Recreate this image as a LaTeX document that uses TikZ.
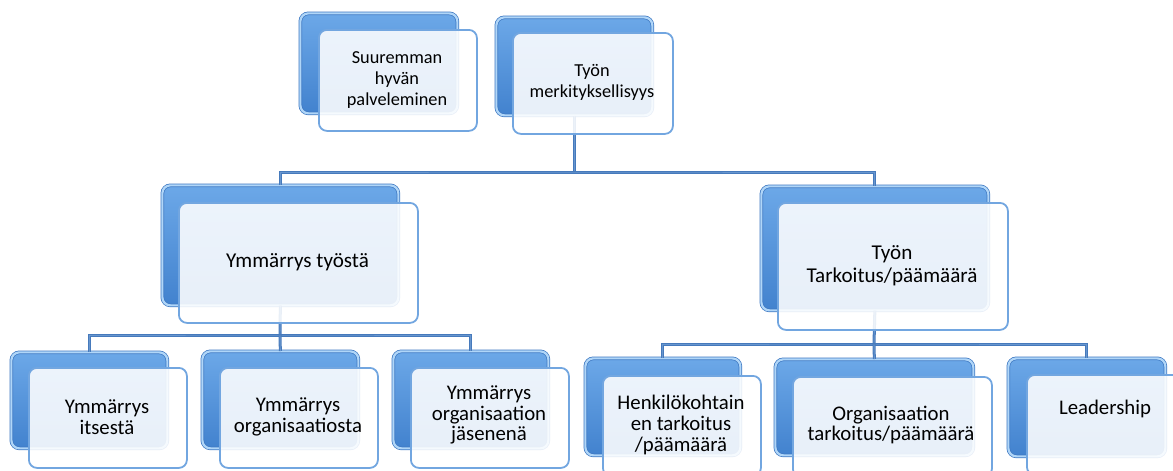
\documentclass[tikz,border=0pt]{standalone}
\usepackage{fontspec}
\setmainfont{Carlito}
\definecolor{bbord}{RGB}{62,120,194}
\definecolor{bhigh}{RGB}{176,214,248}
\definecolor{btop}{RGB}{108,168,232}
\definecolor{bbot}{RGB}{66,130,206}
\definecolor{fbord}{RGB}{114,166,224}
\definecolor{connc}{RGB}{70,122,188}
\definecolor{connhi}{RGB}{104,150,206}
\begin{document}
\begin{tikzpicture}[x=1pt,y=-1pt,
  backbox/.style={anchor=north west, inner sep=0pt, rounded corners=8pt,
    draw=bbord, line width=0.7pt, double=bhigh, double distance=2.2pt,
    top color=btop, bottom color=bbot},
  frontbox/.style={anchor=north west, inner sep=0pt, rounded corners=8pt,
    draw=fbord, line width=1.8pt, fill=white, fill opacity=0.88},
  conn/.style={draw=connc, line width=3pt,
    postaction={draw=connhi, line width=0.9pt}},
  lbl/.style={align=center, text=black, inner sep=0pt},
  lvlone/.style={lbl, font=\fontsize{18.3}{21}\selectfont},
  lvltwo/.style={lbl, font=\fontsize{21.1}{22.7}\selectfont},
  lvlthree/.style={lbl, font=\fontsize{20.8}{20.8}\selectfont}]
\useasboundingbox (0,0) rectangle (1173,471);
\clip (0,0) rectangle (1173,471);

% back (shaded) boxes
\node[backbox, minimum width=157pt, minimum height=100pt] (b1) at (300,13) {};
\node[backbox, minimum width=156pt, minimum height=98pt]  (b2) at (496,17) {};
\node[backbox, minimum width=236pt, minimum height=120pt] (b3) at (162,185) {};
\node[backbox, minimum width=227pt, minimum height=124pt] (b4) at (761,186) {};
\node[backbox, minimum width=156pt, minimum height=96pt]  (b5) at (11,352) {};
\node[backbox, minimum width=156pt, minimum height=97pt]  (b6) at (202,351) {};
\node[backbox, minimum width=155pt, minimum height=97pt]  (b7) at (393,351) {};
\node[backbox, minimum width=155pt, minimum height=97pt]  (b8) at (585,358) {};
\node[backbox, minimum width=198pt, minimum height=96pt]  (b9) at (775,359) {};
\node[backbox, minimum width=157pt, minimum height=98pt]  (b10) at (1008,358) {};

% connectors
\coordinate (j1) at (574,172);
\coordinate (j2) at (280,335);
\coordinate (j3) at (874,344);
\draw[conn] (b2.south) -- (b2.south |- j1);
\draw[conn] (b3.north) |- (j1) -| (b4.north);
\draw[conn] (b3.south) -- (j2);
\draw[conn] (b5.north) |- (j2) -| (b7.north);
\draw[conn] (j2) -- (b6.north);
\draw[conn] (b4.south) -- (j3);
\draw[conn] (b8.north) |- (j3) -| (b10.north);
\draw[conn] (j3) -- (b9.north);

% front (light) boxes
\node[frontbox, minimum width=158pt, minimum height=101pt] (f1) at (318,29) {};
\node[frontbox, minimum width=160pt, minimum height=101pt] (f2) at (512,32) {};
\node[frontbox, minimum width=239pt, minimum height=120pt] (f3) at (178,202) {};
\node[frontbox, minimum width=230pt, minimum height=127pt] (f4) at (777,202) {};
\node[frontbox, minimum width=158pt, minimum height=100pt] (f5) at (28,367) {};
\node[frontbox, minimum width=158pt, minimum height=100pt] (f6) at (219,367) {};
\node[frontbox, minimum width=158pt, minimum height=100pt] (f7) at (410,367) {};
\node[frontbox, minimum width=158pt, minimum height=100pt] (f8) at (602,375) {};
\node[frontbox, minimum width=199pt, minimum height=100pt] (f9) at (792,376) {};
\node[frontbox, minimum width=158pt, minimum height=100pt] (f10) at (1026,374) {};

% labels
\node[lvlone] (t1) at (397,80) {Suuremman\\hyvän\\palveleminen};
\node[lvlone] (t2) at (592,82) {Työn\\merkityksellisyys};
\node[lvltwo] (t3) at (297.5,262) {Ymmärrys työstä};
\node[lvltwo] (t4) at (892,265.5) {Työn\\Tarkoitus/päämäärä};
\node[lvlthree] (t5) at (107,417) {Ymmärrys\\itsestä};
\node[lvlthree] (t6) at (298,417) {Ymmärrys\\organisaatiosta};
\node[lvlthree] (t7) at (489,415) {Ymmärrys\\organisaation\\jäsenenä};
\node[lvlthree] (t8) at (681,425) {Henkilökohtain\\en tarkoitus\\/päämäärä};
\node[lvlthree] (t9) at (891,425) {Organisaation\\tarkoitus/päämäärä};
\node[lvlthree] (t10) at (1105,409) {Leadership};
\end{tikzpicture}
\end{document}
